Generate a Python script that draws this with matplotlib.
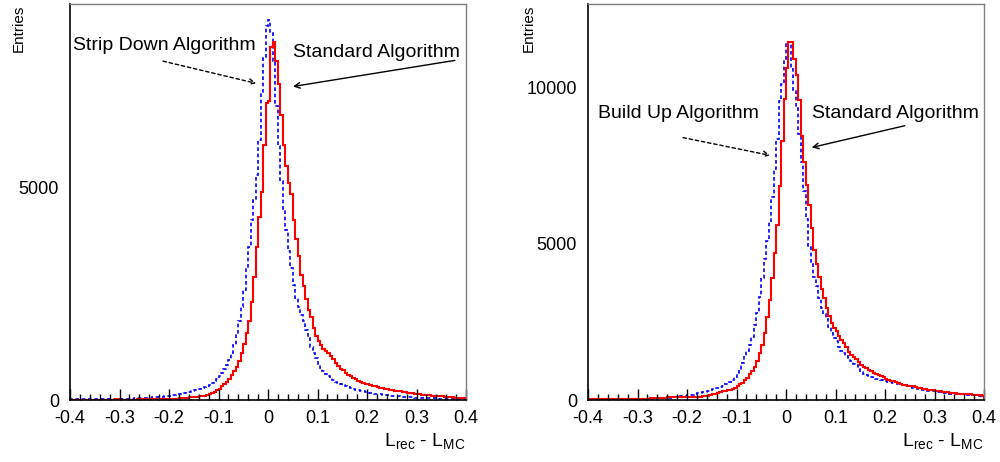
import numpy as np
import matplotlib
matplotlib.use("Agg")
import matplotlib.pyplot as plt
from matplotlib.ticker import MultipleLocator

plt.rcParams["font.family"] = ["Liberation Sans", "DejaVu Sans"]
plt.rcParams["mathtext.fontset"] = "custom"
plt.rcParams["mathtext.rm"] = "Liberation Sans"

# 160 bins of width 0.005 from -0.4 to 0.4
edges = np.linspace(-0.4, 0.4, 161)

standard_left = [
    5, 6, 5, 7, 6, 8, 7, 8, 9, 8,
    10, 9, 11, 10, 12, 11, 13, 12, 14, 15,
    10, 11, 11, 12, 12, 13, 13, 14, 14, 15,
    15, 16, 17, 18, 19, 20, 21, 22, 23, 24,
    25, 28, 31, 34, 38, 43, 50, 56, 62, 68,
    75, 80, 88, 95, 105, 120, 140, 160, 190, 230,
    270, 320, 370, 430, 500, 580, 680, 790, 920, 1100,
    1330, 1570, 1850, 2300, 2900, 3600, 4300, 4900, 6000, 7000,
    7050, 8300, 8420, 7980, 7430, 6700, 6000, 5500, 5100, 4850,
    4250, 3800, 3400, 2950, 2680, 2380, 2130, 1950, 1700, 1500,
    1380, 1290, 1210, 1150, 1100, 1030, 960, 880, 800, 740,
    700, 640, 600, 560, 530, 490, 460, 430, 410, 390,
    370, 355, 340, 320, 300, 285, 275, 265, 250, 240,
    235, 225, 215, 205, 195, 185, 175, 165, 160, 150,
    145, 140, 130, 125, 115, 110, 105, 100, 95, 90,
    85, 80, 75, 70, 65, 60, 58, 55, 52, 50,
]

strip_down_left = [
    15, 14, 16, 15, 14, 16, 17, 15, 16, 17,
    16, 18, 17, 18, 19, 18, 20, 21, 20, 22,
    23, 24, 26, 28, 30, 33, 38, 40, 43, 46,
    50, 54, 58, 63, 67, 71, 75, 80, 88, 95,
    102, 110, 120, 135, 145, 158, 173, 185, 200, 218,
    236, 250, 260, 275, 300, 320, 360, 400, 450, 500,
    560, 640, 730, 830, 950, 1100, 1300, 1550, 1850, 2200,
    2594, 3100, 3600, 4245, 4717, 5307, 6132, 7233, 8058, 8800,
    8950, 8650, 7980, 6918, 5975, 5149, 4500, 4000, 3500, 3100,
    2700, 2400, 2200, 2000, 1850, 1650, 1450, 1250, 1100, 980,
    850, 760, 680, 620, 560, 510, 470, 430, 400, 370,
    345, 320, 300, 280, 262, 248, 232, 218, 205, 195,
    185, 175, 165, 155, 145, 137, 128, 120, 112, 105,
    100, 96, 92, 86, 80, 76, 72, 68, 64, 60,
    56, 53, 50, 48, 46, 44, 42, 40, 38, 36,
    34, 32, 31, 30, 29, 28, 27, 26, 25, 24,
]

standard_right = [
    20, 22, 21, 23, 22, 24, 25, 24, 26, 27,
    28, 27, 29, 30, 31, 30, 32, 33, 34, 35,
    38, 40, 42, 45, 48, 52, 56, 60, 65, 70,
    75, 80, 85, 85, 86, 87, 88, 90, 92, 95,
    98, 100, 103, 105, 107, 110, 115, 125, 140, 160,
    182, 200, 230, 260, 280, 300, 320, 335, 360, 400,
    450, 500, 560, 640, 720, 820, 920, 1050, 1250, 1500,
    1750, 2150, 2650, 3200, 3900, 4700, 5600, 6838, 8280, 9615,
    10630, 11450, 11450, 10900, 10400, 9600, 8440, 7600, 6890, 6250,
    5500, 4800, 4350, 3950, 3550, 3250, 2950, 2680, 2450, 2300,
    2200, 2060, 1920, 1830, 1700, 1550, 1450, 1389, 1303, 1228,
    1121, 1050, 1015, 960, 920, 870, 840, 790, 769, 740,
    680, 641, 615, 600, 570, 556, 520, 495, 481, 460,
    449, 440, 410, 400, 380, 350, 342, 330, 320, 310,
    300, 295, 280, 270, 265, 250, 240, 232, 220, 205,
    195, 192, 190, 185, 180, 175, 168, 162, 155, 135,
]

build_up_right = [
    20, 21, 20, 22, 21, 22, 23, 22, 24, 23,
    24, 25, 24, 26, 25, 27, 26, 28, 29, 30,
    35, 38, 40, 43, 45, 48, 50, 55, 60, 65,
    70, 73, 75, 80, 90, 100, 107, 115, 125, 140,
    160, 165, 170, 200, 235, 240, 250, 270, 288, 300,
    350, 374, 400, 430, 449, 500, 530, 580, 650, 750,
    860, 990, 1200, 1400, 1580, 1750, 2030, 2400, 2800, 3300,
    3900, 4500, 5100, 5700, 6500, 7400, 8333, 9550, 10100, 10900,
    11453, 11400, 10600, 9900, 9350, 8500, 7600, 6700, 5800, 4900,
    4350, 3950, 3650, 3250, 2950, 2750, 2600, 2350, 2150, 2000,
    1880, 1709, 1580, 1500, 1420, 1330, 1250, 1160, 1110, 1000,
    900, 850, 800, 769, 740, 710, 690, 670, 641, 620,
    600, 588, 570, 550, 534, 520, 500, 481, 460, 440,
    427, 400, 374, 360, 342, 330, 315, 299, 290, 280,
    272, 267, 255, 240, 228, 214, 210, 205, 200, 195,
    192, 185, 180, 175, 170, 165, 160, 150, 140, 128,
]

fig = plt.figure(figsize=(10, 4.62), dpi=100)
ax1 = fig.add_axes([0.070, 0.134, 0.396, 0.857])
ax2 = fig.add_axes([0.588, 0.134, 0.396, 0.857])


def style_axes(ax, ymax, ymajor):
    ax.set_xlim(-0.4, 0.4)
    ax.set_ylim(0, ymax)
    ax.xaxis.set_major_locator(MultipleLocator(0.1))
    ax.xaxis.set_minor_locator(MultipleLocator(0.02))
    ax.yaxis.set_major_locator(MultipleLocator(ymajor))
    ax.xaxis.set_major_formatter(lambda v, p: "0" if abs(v) < 1e-9 else f"{v:.1f}")
    ax.tick_params(which="both", direction="in", top=False, right=False,
                   labelsize=13, width=1.0, color="black")
    ax.tick_params(axis="x", which="major", length=8, pad=7)
    ax.tick_params(axis="x", which="minor", length=4)
    ax.tick_params(axis="y", which="both", length=0, pad=8)
    for side in ("top", "right"):
        ax.spines[side].set_color("#808080")
        ax.spines[side].set_linewidth(1.0)
    for side in ("left", "bottom"):
        ax.spines[side].set_linewidth(1.2)
    ax.text(1.0, -0.105, r"L$_{\mathrm{rec}}$ - L$_{\mathrm{MC}}$", transform=ax.transAxes,
            ha="right", va="center", fontsize=14)


# left: standard vs strip down
ax1.stairs(strip_down_left, edges, color="blue", lw=1.2, linestyle=(0, (2.2, 1.6)))
ax1.stairs(standard_left, edges, color="red", lw=1.5)
style_axes(ax1, 9320, 5000)
ax1.text(-0.13, 1.0, "Entries", transform=ax1.transAxes, rotation=90,
         ha="center", va="top", fontsize=11)

arrow_solid = dict(arrowstyle="->", color="black", lw=1.0, shrinkA=0, shrinkB=0)
arrow_dash = dict(arrowstyle="->", color="black", lw=1.0, linestyle=(0, (2.5, 2)),
                  shrinkA=0, shrinkB=0)

ax1.text(0.008, 0.895, "Strip Down Algorithm", transform=ax1.transAxes,
         ha="left", va="center", fontsize=14)
ax1.annotate("", xy=(0.470, 0.800), xytext=(0.235, 0.856),
             xycoords="axes fraction", arrowprops=arrow_dash)
ax1.text(0.563, 0.878, "Standard Algorithm", transform=ax1.transAxes,
         ha="left", va="center", fontsize=14)
ax1.annotate("", xy=(0.563, 0.792), xytext=(0.972, 0.858),
             xycoords="axes fraction", arrowprops=arrow_solid)

# right: standard vs build up
ax2.stairs(build_up_right, edges, color="blue", lw=1.2, linestyle=(0, (2.2, 1.6)))
ax2.stairs(standard_right, edges, color="red", lw=1.5)
style_axes(ax2, 12660, 5000)
ax2.text(-0.15, 1.0, "Entries", transform=ax2.transAxes, rotation=90,
         ha="center", va="top", fontsize=11)

ax2.text(0.025, 0.725, "Build Up Algorithm", transform=ax2.transAxes,
         ha="left", va="center", fontsize=14)
ax2.annotate("", xy=(0.460, 0.618), xytext=(0.240, 0.663),
             xycoords="axes fraction", arrowprops=arrow_dash)
ax2.text(0.566, 0.725, "Standard Algorithm", transform=ax2.transAxes,
         ha="left", va="center", fontsize=14)
ax2.annotate("", xy=(0.565, 0.638), xytext=(0.800, 0.693),
             xycoords="axes fraction", arrowprops=arrow_solid)

fig.savefig("out.png", dpi=100)
